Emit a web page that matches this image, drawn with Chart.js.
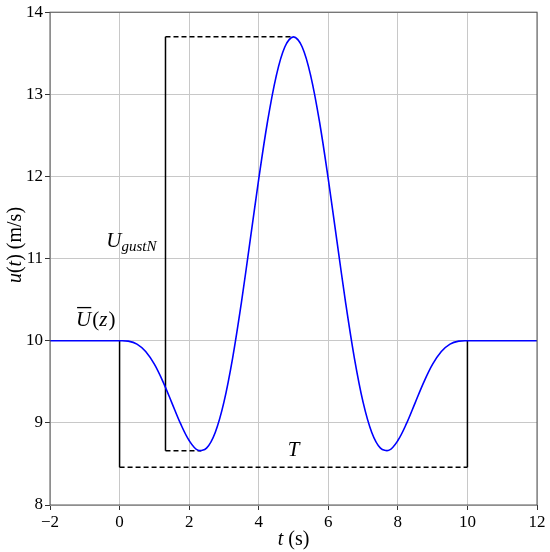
<!DOCTYPE html>
<html>
<head>
<meta charset="utf-8">
<script src="https://cdn.jsdelivr.net/npm/chart.js@4.4.0/dist/chart.umd.min.js"></script>
<style>
  html, body { margin: 0; padding: 0; background: #fff; }
  #wrap { width: 550px; height: 552px; }
</style>
</head>
<body>
<div id="wrap"><canvas id="gust_chart"></canvas></div>
<script>
// gust time history
const timeValues = [-2, 0, 0.25, 0.5, 0.75, 1, 1.25, 1.5, 1.75, 2, 2.25, 2.5, 2.75, 3, 3.25, 3.5, 3.75, 4, 4.25, 4.5, 4.75, 5,
  5.25, 5.5, 5.75, 6, 6.25, 6.5, 6.75, 7, 7.25, 7.5, 7.75, 8, 8.25, 8.5, 8.75, 9, 9.25, 9.5, 9.75, 10, 12];
const speedValues = [10, 10, 9.995, 9.959, 9.869, 9.714, 9.499, 9.247, 8.993, 8.785, 8.668, 8.692, 8.883, 9.252, 9.789, 10.459, 11.209, 11.967, 12.66, 13.216, 13.576, 13.7,
  13.576, 13.216, 12.66, 11.967, 11.209, 10.459, 9.789, 9.252, 8.883, 8.692, 8.668, 8.785, 8.993, 9.247, 9.499, 9.714, 9.869, 9.959, 9.995, 10, 10];

// annotation lines
const periodSolidX = [0, 0, null, 10, 10];
const periodSolidY = [10, 8.46, null, 8.46, 10];
const periodDashX = [0, 10];
const periodDashY = [8.46, 8.46];
const gustSolidX = [1.32, 1.32];
const gustSolidY = [8.66, 13.7];
const gustTopX = [1.32, 5];
const gustTopY = [13.7, 13.7];
const gustLowX = [1.32, 2.35];
const gustLowY = [8.66, 8.66];

const xTicks = [-2, 0, 2, 4, 6, 8, 10, 12];
const yTicks = [8, 9, 10, 11, 12, 13, 14];

function pts(xs, ys) {
  let out = [];
  for (let i = 0; i < xs.length; i++) {
    out.push(xs[i] === null ? {x: null, y: null} : {x: xs[i], y: ys[i]});
  }
  return out;
}

const serif = '"Liberation Serif", "DejaVu Serif", serif';

function blackLine(xs, ys, dashed) {
  return {
    data: pts(xs, ys),
    borderColor: '#000',
    borderWidth: 1.5,
    borderDash: dashed ? [5, 3] : [],
    pointRadius: 0,
    tension: 0,
    spanGaps: false
  };
}

const framePlugin = {
  id: 'frame',
  afterDraw(chart) {
    const ctx = chart.ctx;
    const a = chart.chartArea;
    const sx = chart.scales.x, sy = chart.scales.y;
    ctx.save();
    ctx.strokeStyle = '#555';
    ctx.lineWidth = 1;
    ctx.strokeRect(a.left, a.top, a.right - a.left, a.bottom - a.top);

    ctx.fillStyle = '#000';
    ctx.textBaseline = 'alphabetic';
    // U_gustN
    let x0 = sx.getPixelForValue(-0.38), y0 = sy.getPixelForValue(11.14);
    ctx.font = 'italic 21px ' + serif;
    ctx.textAlign = 'left';
    ctx.fillText('U', x0, y0);
    let w = ctx.measureText('U').width;
    ctx.font = 'italic 15px ' + serif;
    ctx.fillText('gustN', x0 + w, y0 + 4);

    // U bar (z)
    x0 = sx.getPixelForValue(-1.25); y0 = sy.getPixelForValue(10.18);
    ctx.font = 'italic 21px ' + serif;
    ctx.fillText('U', x0, y0);
    w = ctx.measureText('U').width;
    ctx.fillRect(x0 + 1, y0 - 19, w - 1, 1.3);
    ctx.font = '21px ' + serif;
    ctx.fillText('(', x0 + w + 1, y0);
    let w2 = ctx.measureText('(').width;
    ctx.font = 'italic 21px ' + serif;
    ctx.fillText('z', x0 + w + 1 + w2, y0);
    let w3 = ctx.measureText('z').width;
    ctx.font = '21px ' + serif;
    ctx.fillText(')', x0 + w + 2 + w2 + w3, y0);

    // T
    ctx.font = 'italic 21px ' + serif;
    ctx.textAlign = 'center';
    ctx.fillText('T', sx.getPixelForValue(5.0), sy.getPixelForValue(8.6));

    // axis titles
    ctx.font = 'italic 20px ' + serif;
    let tw = ctx.measureText('t').width;
    ctx.font = '20px ' + serif;
    let sw = ctx.measureText(' (s)').width;
    let cx = (a.left + a.right) / 2 - (tw + sw) / 2;
    ctx.textAlign = 'left';
    ctx.font = 'italic 20px ' + serif;
    ctx.fillText('t', cx, 545);
    ctx.font = '20px ' + serif;
    ctx.fillText(' (s)', cx + tw, 545);

    ctx.translate(21, 245);
    ctx.rotate(-Math.PI / 2);
    const parts = [['u', true], ['(', false], ['t', true], [') (m/s)', false]];
    let total = 0;
    parts.forEach(function(p) {
      ctx.font = (p[1] ? 'italic ' : '') + '20px ' + serif;
      total += ctx.measureText(p[0]).width;
    });
    let px = -total / 2;
    parts.forEach(function(p) {
      ctx.font = (p[1] ? 'italic ' : '') + '20px ' + serif;
      ctx.fillText(p[0], px, 0);
      px += ctx.measureText(p[0]).width;
    });
    ctx.restore();
  }
};

const config = {
  type: 'line',
  data: {
    datasets: [
      {
        data: pts(timeValues, speedValues),
        borderColor: '#0000ff',
        borderWidth: 1.6,
        pointRadius: 0,
        tension: 0.35
      },
      blackLine(periodSolidX, periodSolidY, false),
      blackLine(periodDashX, periodDashY, true),
      blackLine(gustSolidX, gustSolidY, false),
      blackLine(gustTopX, gustTopY, true),
      blackLine(gustLowX, gustLowY, true)
    ]
  },
  options: {
    responsive: true,
    maintainAspectRatio: false,
    animation: false,
    layout: { padding: { top: 11, right: 13, left: 0, bottom: 0 } },
    plugins: { legend: { display: false }, tooltip: { enabled: false } },
    scales: {
      x: {
        type: 'linear',
        min: -2, max: 12,
        afterBuildTicks: function(scale) { scale.ticks = xTicks.map(function(v) { return {value: v}; }); },
        afterFit: function(scale) { scale.height = 47; },
        grid: { color: '#c8c8c8', lineWidth: 1, tickLength: 5, tickColor: '#333' },
        border: { display: false },
        ticks: {
          color: '#000', padding: 2,
          font: { family: serif, size: 17 },
          callback: function(v) { return v < 0 ? '\u2212' + Math.abs(v) : String(v); }
        }
      },
      y: {
        type: 'linear',
        min: 8, max: 14,
        afterBuildTicks: function(scale) { scale.ticks = yTicks.map(function(v) { return {value: v}; }); },
        afterFit: function(scale) { scale.width = 50; },
        grid: { color: '#c8c8c8', lineWidth: 1, tickLength: 5, tickColor: '#333' },
        border: { display: false },
        ticks: {
          color: '#000', padding: 2,
          font: { family: serif, size: 17 }
        }
      }
    }
  },
  plugins: [framePlugin]
};

const gust_chart = new Chart(document.getElementById('gust_chart'), config);
</script>
</body>
</html>
